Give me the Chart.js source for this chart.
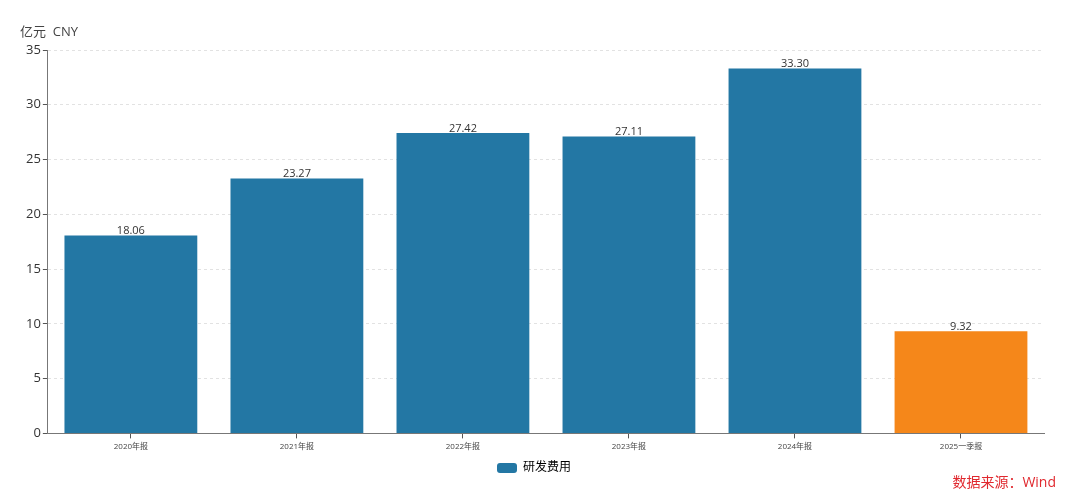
<!DOCTYPE html>
<html>
<head>
<meta charset="utf-8">
<script src="https://cdn.jsdelivr.net/npm/chart.js@4/dist/chart.umd.min.js"></script>
<style>
  html, body { margin: 0; padding: 0; background: #fff; }
  #wrap { width: 1080px; height: 503px; }
</style>
</head>
<body>
<div id="wrap"><canvas id="rdChart"></canvas></div>
<script>
// Data
const categories = ["2020年报", "2021年报", "2022年报", "2023年报", "2024年报", "2025一季报"];
const rdValues = [18.06, 23.27, 27.42, 27.11, 33.30, 9.32];
const barColors = ["#2377a4", "#2377a4", "#2377a4", "#2377a4", "#2377a4", "#f5871a"];
const yTicks = [0, 5, 10, 15, 20, 25, 30, 35];

const fontFamily = '"Open Sans", "Noto Sans CJK SC", sans-serif';

// value labels above bars, unit title and source note
const extras = {
    id: "extras",
    afterDatasetsDraw(chart) {
        const ctx = chart.ctx;
        const meta = chart.getDatasetMeta(0);
        ctx.save();
        ctx.font = "11px " + fontFamily;
        ctx.fillStyle = "#333";
        ctx.textAlign = "center";
        ctx.textBaseline = "bottom";
        meta.data.forEach((bar, i) => {
            ctx.fillText(rdValues[i].toFixed(2), bar.x, bar.y + 1);
        });

        ctx.font = "13px " + fontFamily;
        ctx.fillStyle = "#444";
        ctx.textAlign = "left";
        ctx.textBaseline = "middle";
        ctx.fillText("亿元  CNY", 20, 32);

        ctx.font = "14px " + fontFamily;
        ctx.fillStyle = "#e0282e";
        ctx.textAlign = "right";
        ctx.fillText("数据来源：Wind", 1056, 483);
        ctx.restore();
    }
};

new Chart(document.getElementById("rdChart"), {
    type: "bar",
    data: {
        labels: categories,
        datasets: [{
            label: "研发费用",
            data: rdValues,
            backgroundColor: barColors,
            borderWidth: 0,
            barPercentage: 0.8,
            categoryPercentage: 1.0
        }]
    },
    options: {
        responsive: true,
        maintainAspectRatio: false,
        animation: false,
        layout: { padding: { left: 24, right: 36, top: 50, bottom: 19 } },
        plugins: {
            legend: {
                position: "bottom",
                labels: {
                    boxWidth: 20,
                    boxHeight: 10,
                    padding: 6,
                    color: "#333",
                    font: { size: 12, family: fontFamily },
                    generateLabels: () => [{
                        text: "研发费用",
                        fillStyle: "#2377a4",
                        strokeStyle: "#2377a4",
                        lineWidth: 0,
                        borderRadius: 3,
                        datasetIndex: 0
                    }]
                }
            },
            tooltip: { enabled: false }
        },
        scales: {
            x: {
                grid: {
                    drawOnChartArea: false,
                    drawTicks: true,
                    tickLength: 5,
                    tickColor: "#555",
                    offset: false
                },
                border: { color: "#777", width: 1 },
                ticks: {
                    color: "#444",
                    font: { size: 8, family: fontFamily },
                    maxRotation: 0,
                    padding: 4
                }
            },
            y: {
                min: 0,
                max: 35,
                afterBuildTicks: (axis) => {
                    axis.ticks = yTicks.map(v => ({ value: v }));
                },
                grid: {
                    color: "#e2e2e2",
                    tickColor: "#555",
                    tickLength: 5,
                    tickBorderDash: []
                },
                border: { color: "#777", width: 1, dash: [3, 3] },
                ticks: {
                    color: "#333",
                    font: { size: 13, family: fontFamily },
                    padding: 2
                }
            }
        }
    },
    plugins: [extras]
});
</script>
</body>
</html>
